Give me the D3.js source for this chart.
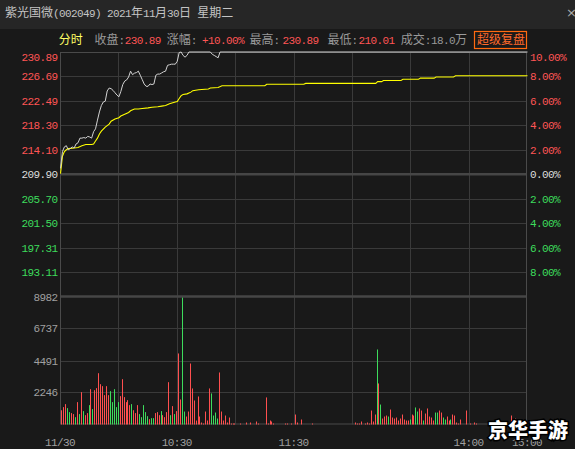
<!DOCTYPE html>
<html>
<head>
<meta charset="utf-8">
<script src="https://cdn.jsdelivr.net/npm/d3@7"></script>
<style>
  html, body { margin: 0; padding: 0; background: #191919; overflow: hidden; }
  svg text { white-space: pre; }
  .a { font-family: "Liberation Mono", "DejaVu Sans Mono", monospace; font-size: 11px; letter-spacing: -0.6px; }
  .c { font-family: "Noto Sans CJK SC", sans-serif; font-size: 12px; }
</style>
</head>
<body>
<div id="chart"></div>
<script>
// ---- data ----
var title = "紫光国微(002049) 2021年11月30日 星期二";
var preClose = 209.90;

var priceTicks = [230.89, 226.69, 222.49, 218.30, 214.10, 209.90, 205.70, 201.50, 197.31, 193.11];
var pctTicks   = [10, 8, 6, 4, 2, 0, -2, -4, -6, -8];
var volTicks   = [8982, 6737, 4491, 2246];
var timeTicks  = [0, 60, 120, 210, 240];
var timeLabels = ["11/30", "10:30", "11:30", "14:00", "15:00"];

// [minute, price]
var price = [
  [0,210.9],[1,213.8],[2,214.6],[3,214.8],[4,214.1],[5,214.3],[6,214.6],[7,214.4],[8,215.1],[9,215.3],
  [10,216.1],[11,216.1],[12,216.2],[13,216.1],[14,216.4],[15,216.3],[16,216.1],[17,217.2],[18,217.7],[19,219.2],
  [20,220.6],[21,221.7],[22,222.3],[23,222.45],[24,224.2],[25,224.7],[26,224.6],[27,224.3],[28,223.9],[29,223.5],
  [30,223.2],[31,224.1],[32,225.3],[33,225.9],[34,226.1],[35,226.6],[36,227.6],[37,227.0],[38,227.25],[39,227.35],
  [40,227.6],[41,226.9],[42,226.15],[43,225.4],[44,225.0],[45,225.0],[46,225.4],[47,225.3],[48,225.4],[49,226.9],
  [50,227.1],[51,227.1],[52,227.3],[53,227.5],[54,227.6],[55,228.6],[56,228.7],[57,228.8],[58,228.8],[59,228.8],
  [60,229.3],[61,230.8],[62,230.89],[63,230.3],[64,230.0],[65,230.3],[66,230.89],[77,230.89],[78,230.5],[79,230.3],
  [80,230.1],[81,229.9],[82,230.89],[240,230.89]
];

// [minute, average price]
var avgPrice = [
  [0,210.0],[1,213.0],[2,213.8],[3,214.1],[4,214.3],[7,214.4],[9,214.5],[11,214.8],[13,215.0],[16,215.0],
  [17,215.1],[18,215.6],[19,216.1],[20,216.8],[21,217.3],[23,218.0],[25,218.5],[26,219.0],[28,219.4],[30,219.6],
  [31,219.9],[33,220.2],[35,220.5],[36,220.8],[38,221.1],[40,221.1],[42,221.2],[45,221.3],[47,221.4],[50,221.5],
  [52,221.6],[54,221.7],[56,222.0],[59,222.3],[60,222.4],[61,222.9],[62,223.4],[63,223.6],[65,223.7],[67,224.0],
  [68,224.25],[71,224.4],[76,224.55],[77,224.7],[81,224.8],[83,225.1],[105,225.1],[106,225.35],[125,225.35],[126,225.5],
  [162,225.5],[163,225.8],[165,225.8],[166,226.0],[175,226.0],[176,226.2],[184,226.2],[185,226.4],[192,226.4],[193,226.6],
  [202,226.6],[203,226.8],[240,226.8]
];

// [minute, volume, up?]
var volume = [
  [0,1000,1],[1,1220,1],[2,1430,1],[3,1150,0],[4,870,0],[5,800,1],[6,730,1],[7,515,0],[8,1570,1],[9,730,0],
  [10,2270,1],[11,940,0],[12,655,1],[13,800,1],[14,1360,0],[15,2480,1],[16,1080,0],[17,2410,1],[18,2550,1],[19,3600,1],
  [20,2830,1],[21,2690,1],[22,2060,1],[23,2690,1],[24,2060,1],[25,2340,0],[26,1570,0],[27,2480,0],[28,1220,0],[29,1570,0],
  [30,1990,1],[31,3180,1],[32,1920,1],[33,1570,1],[34,1710,1],[35,1360,1],[36,1430,0],[37,1000,1],[38,800,1],[39,1360,1],
  [40,730,0],[41,515,0],[42,1360,0],[43,870,0],[44,585,0],[45,375,1],[46,445,0],[47,445,0],[48,800,1],[49,870,1],
  [50,655,1],[51,940,0],[52,655,1],[53,515,1],[54,870,1],[55,2970,1],[56,655,0],[57,1290,1],[58,730,0],[59,940,1],
  [60,4985,1],[61,1755,1],[62,8900,0],[63,910,0],[64,560,1],[65,910,1],[66,4280,1],[67,2530,1],[68,1685,1],[69,280,1],
  [70,1965,1],[71,560,1],[72,140,1],[73,70,1],[74,910,1],[75,280,1],[76,2530,1],[77,2180,0],[78,630,0],[79,840,0],
  [80,420,0],[81,3650,1],[82,910,1],[83,280,1],[84,630,1],[85,140,1],[86,490,1],[87,70,1],[88,70,1],[89,70,1],
  [92,70,1],[95,140,1],[97,140,1],[100,210,1],[101,70,1],[105,1900,1],[106,70,1],[107,280,1],[108,210,1],[109,70,1],
  [115,70,1],[116,70,1],[118,70,1],[120,700,1],[121,140,1],[123,350,1],[129,70,1],
  [151,140,1],[152,70,1],[153,70,1],[154,210,1],[156,70,1],[157,140,1],[158,70,1],[159,980,1],
  [160,210,1],[161,700,1],[162,5265,0],[163,2880,1],[164,1400,0],[165,420,1],[166,560,1],[167,630,1],[168,560,0],[169,1050,1],
  [170,490,1],[171,420,1],[172,490,1],[173,280,1],[174,420,1],[175,700,1],[176,350,1],[177,280,1],[178,280,1],[179,350,0],
  [180,700,1],[181,630,1],[182,1195,0],[183,910,0],[184,1125,1],[185,980,1],[186,280,0],[187,770,1],[188,1125,1],[189,560,1],
  [190,490,1],[191,280,1],[192,840,0],[193,840,0],[194,980,1],[195,840,1],[196,490,0],[197,350,0],[198,560,1],[199,280,1],
  [200,350,0],[201,700,1],[202,630,1],[203,140,1],[204,70,1],[205,350,1],[208,980,1],[210,70,1],[212,140,1],[213,70,1],
  [231,630,1],[232,420,1],[233,420,1],[235,210,1],[237,140,1]
];

// header row: [text, colour, x]
var header = [
  ["分时", "#ffff66", 58.7],
  ["收盘:", "#9a9a9a", 94.6], ["230.89", "#ff5555", 124.7],
  ["涨幅:", "#9a9a9a", 166.8], ["+10.00%", "#ff5555", 202],
  ["最高:", "#9a9a9a", 249.4], ["230.89", "#ff5555", 282.4],
  ["最低:", "#9a9a9a", 327.5], ["210.01", "#ff5555", 358.6],
  ["成交:", "#9a9a9a", 400.8], ["18.0万", "#9a9a9a", 430.9]
];

var W = 575, H = 449;
var plot = {left: 60, right: 527, top: 52, mid: 296.5, bottom: 424.5};
var RED = "#ff4f4f", GREEN = "#3ddc5c", GRID = "#3a3a3a";

var svg = d3.select("#chart").append("svg")
  .attr("width", W).attr("height", H);

// splits a string into ascii / cjk runs so digits get the narrow font
function mixed(sel, str) {
  var runs = str.match(/[\x00-\x7f]+|[^\x00-\x7f]+/g);
  runs.forEach(function(r){
    sel.append("tspan").attr("class", /^[\x00-\x7f]/.test(r) ? "a" : "c").text(r);
  });
  return sel;
}

var x = d3.scaleLinear().domain([0, 240]).range([plot.left, plot.right]);
var y = d3.scaleLinear().domain([preClose - 20.99, preClose + 20.99]).range([plot.mid, plot.top]);
var yPct = d3.scaleLinear().domain([-10, 10]).range([plot.mid, plot.top]);
var yVol = d3.scaleLinear().domain([0, 8982]).range([plot.bottom, plot.mid]);

// background + title bar
svg.append("rect").attr("width", W).attr("height", H).attr("fill", "#191919");
svg.append("rect").attr("width", W).attr("height", 29).attr("fill", "#262626");
mixed(svg.append("text").attr("x", 5).attr("y", 17).attr("fill", "#c4c4c4"), title);
svg.append("text").attr("x", 566).attr("y", 17).attr("fill", "#aaaaaa")
  .attr("font-family", "DejaVu Sans").attr("font-size", 13).text("×");

// header
header.forEach(function(h){
  mixed(svg.append("text").attr("x", h[2]).attr("y", 44).attr("fill", h[1]), h[0]);
});
svg.append("rect").attr("x", 474.5).attr("y", 31.5).attr("width", 52).attr("height", 17)
  .attr("fill", "none").attr("stroke", "#ff6a10").attr("stroke-width", 1.2);
mixed(svg.append("text").attr("x", 477).attr("y", 44).attr("fill", "#ff6a2a"), "超级复盘");

// grid
var grid = svg.append("g");
d3.range(1, 8).forEach(function(k){
  var gx = Math.round(x(k * 30)) + 0.5;
  grid.append("line").attr("x1", gx).attr("x2", gx).attr("y1", plot.top).attr("y2", plot.bottom)
    .attr("stroke", GRID);
});
priceTicks.forEach(function(p){
  if (p === priceTicks[0] || p === preClose) return;
  var gy = Math.round(y(p)) + 0.5;
  grid.append("line").attr("x1", plot.left).attr("x2", plot.right).attr("y1", gy).attr("y2", gy)
    .attr("stroke", GRID);
});
volTicks.slice(1).forEach(function(v){
  var gy = Math.round(yVol(v)) + 0.5;
  grid.append("line").attr("x1", plot.left).attr("x2", plot.right).attr("y1", gy).attr("y2", gy)
    .attr("stroke", GRID);
});
// thick zero line and panel separator
grid.append("line").attr("x1", plot.left).attr("x2", plot.right)
  .attr("y1", y(preClose)).attr("y2", y(preClose)).attr("stroke", "#464646").attr("stroke-width", 2.5);
grid.append("line").attr("x1", plot.left).attr("x2", plot.right)
  .attr("y1", plot.mid).attr("y2", plot.mid).attr("stroke", "#464646").attr("stroke-width", 2.5);
// frame
grid.append("rect").attr("x", plot.left + 0.5).attr("y", plot.top + 0.5)
  .attr("width", plot.right - plot.left - 1).attr("height", plot.bottom - plot.top - 1)
  .attr("fill", "none").attr("stroke", "#4a4a4a");

// left price labels
svg.append("g").selectAll("text").data(priceTicks).enter().append("text")
  .attr("x", 57.5)
  .attr("y", function(d, i){ return (i === 0 ? y(d) + 5 : y(d)) + 4; })
  .attr("text-anchor", "end")
  .attr("class", "a")
  .attr("fill", function(d){ return d > preClose ? "#ff5555" : d < preClose ? "#3ddc5c" : "#dddddd"; })
  .text(function(d){ return d.toFixed(2); });

// right percent labels
svg.append("g").selectAll("text").data(pctTicks).enter().append("text")
  .attr("x", 530)
  .attr("y", function(d, i){ return (i === 0 ? yPct(d) + 5 : yPct(d)) + 4; })
  .attr("class", "a")
  .attr("fill", function(d){ return d > 0 ? "#ff5555" : d < 0 ? "#3ddc5c" : "#dddddd"; })
  .text(function(d){ return Math.abs(d).toFixed(2) + "%"; });

// volume labels
svg.append("g").selectAll("text").data(volTicks).enter().append("text")
  .attr("x", 57.5).attr("y", function(d){ return yVol(d) + 4; })
  .attr("text-anchor", "end").attr("class", "a").attr("fill", "#a0a0a0")
  .text(function(d){ return d; });

// time labels
svg.append("g").selectAll("text").data(timeTicks).enter().append("text")
  .attr("x", function(d){ return x(d); }).attr("y", 446)
  .attr("text-anchor", "middle").attr("class", "a").attr("fill", "#a0a0a0")
  .text(function(d, i){ return timeLabels[i]; });

// volume bars
svg.append("g").selectAll("rect").data(volume).enter().append("rect")
  .attr("x", function(d){ return Math.round(x(d[0]) + 1.3); })
  .attr("width", 1)
  .attr("y", function(d){ return yVol(d[1]); })
  .attr("height", function(d){ return Math.max(1, plot.bottom - yVol(d[1])); })
  .attr("fill", function(d){ return d[2] ? RED : GREEN; });

// price and average lines
var line = d3.line().x(function(d){ return x(d[0]) + 0.5; }).y(function(d){ return y(d[1]); });
svg.append("path").datum(avgPrice).attr("d", line)
  .attr("fill", "none").attr("stroke", "#ffff00").attr("stroke-width", 1.1);
svg.append("path").datum(price).attr("d", line)
  .attr("fill", "none").attr("stroke", "#d2d2d2").attr("stroke-width", 1);

// watermark
svg.append("text").attr("x", 528).attr("y", 438).attr("text-anchor", "middle")
  .attr("font-family", "Noto Sans CJK SC").attr("font-weight", 900).attr("font-size", 20)
  .attr("fill", "#ffffff").attr("stroke", "#000000").attr("stroke-width", 3)
  .attr("paint-order", "stroke").text("京华手游");
</script>
</body>
</html>
